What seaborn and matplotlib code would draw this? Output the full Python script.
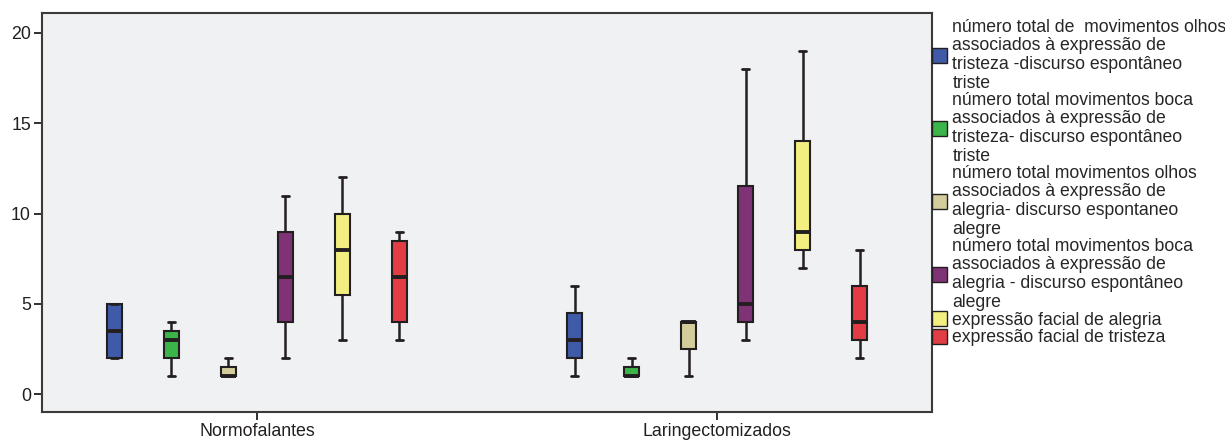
import numpy as np
import pandas as pd
import seaborn as sns
import matplotlib
matplotlib.use("Agg")
import matplotlib.pyplot as plt
from matplotlib.patches import Patch

# Groups on the x axis
groups = ["Normofalantes", "Laringectomizados"]

# Variables shown as coloured boxes (legend entries)
series = [
    "número total de  movimentos olhos\nassociados à expressão de\ntristeza -discurso espontâneo\ntriste",
    "número total movimentos boca\nassociados à expressão de\ntristeza- discurso espontâneo\ntriste",
    "número total movimentos olhos\nassociados à expressão de\nalegria- discurso espontaneo\nalegre",
    "número total movimentos boca\nassociados à expressão de\nalegria - discurso espontâneo\nalegre",
    "expressão facial de alegria",
    "expressão facial de tristeza",
]
colors = ["#3F5BA8", "#3BB44A", "#D2CD9A", "#7F3276", "#F2EF80", "#E23D44"]

# Five-number summaries per series (min, Q1, median, Q3, max)
normo_low = [2, 1, 1, 2, 3, 3]
normo_q1 = [2, 2, 1, 4, 5.5, 4]
normo_median = [3.5, 3, 1, 6.5, 8, 6.5]
normo_q3 = [5, 3.5, 1.5, 9, 10, 8.5]
normo_high = [5, 4, 2, 11, 12, 9]

laring_low = [1, 1, 1, 3, 7, 2]
laring_q1 = [2, 1, 2.5, 4, 8, 3]
laring_median = [3, 1, 4, 5, 9, 4]
laring_q3 = [4.5, 1.5, 4, 11.5, 14, 6]
laring_high = [6, 2, 4, 18, 19, 8]

y_ticks = [0, 5, 10, 15, 20]

summaries = {
    "Normofalantes": (normo_low, normo_q1, normo_median, normo_q3, normo_high),
    "Laringectomizados": (laring_low, laring_q1, laring_median, laring_q3, laring_high),
}

# Long table: five values per box reproduce its quartiles and whisker ends
rows = []
for g in groups:
    stats = summaries[g]
    for i, s in enumerate(series):
        for v in (stats[0][i], stats[1][i], stats[2][i], stats[3][i], stats[4][i]):
            rows.append({"grupo": g, "variavel": s, "valor": v})
df = pd.DataFrame(rows)

sns.set_style("white")
plt.rcParams["font.family"] = ["Liberation Sans", "DejaVu Sans"]

edge = "#231F20"
fig = plt.figure(figsize=(12.25, 4.44), dpi=100)
ax = fig.add_axes([42 / 1225, 1 - 412 / 444, (932 - 42) / 1225, (412 - 13) / 444])
ax.set_facecolor("#F0F1F3")

sns.boxplot(
    data=df, x="grupo", y="valor", hue="variavel", order=groups,
    hue_order=series, palette=colors, saturation=1, width=0.743, gap=0.74,
    whis=(0, 100), linecolor=edge, linewidth=1.5,
    medianprops={"linewidth": 2.8, "color": edge},
    capprops={"linewidth": 2, "color": edge},
    whiskerprops={"linewidth": 1.8, "color": edge},
    legend=False, ax=ax,
)

ax.set_xlim(-0.467, 1.467)
ax.set_ylim(-0.98, 21.1)
ax.set_yticks(y_ticks)
ax.set_xlabel("")
ax.set_ylabel("")
ax.tick_params(axis="both", bottom=True, left=True, direction="out", length=6,
               width=1.3, color=edge, labelsize=12.8, labelcolor="#231F20", pad=2)
for sp in ax.spines.values():
    sp.set_visible(True)
    sp.set_color("#3A3A3A")
    sp.set_linewidth(1.5)

handles = [Patch(facecolor=c, edgecolor=edge, linewidth=1.0) for c in colors]
leg = ax.legend(
    handles, series, loc="upper left", bbox_to_anchor=(1.0, 0.986),
    frameon=False, fontsize=12.7, borderaxespad=0, borderpad=0,
    handlelength=0.85, handleheight=0.95, handletextpad=0.3,
    labelspacing=0.0,
)
for t in leg.get_texts():
    t.set_linespacing(1.13)

fig.savefig("out.png", dpi=100)
